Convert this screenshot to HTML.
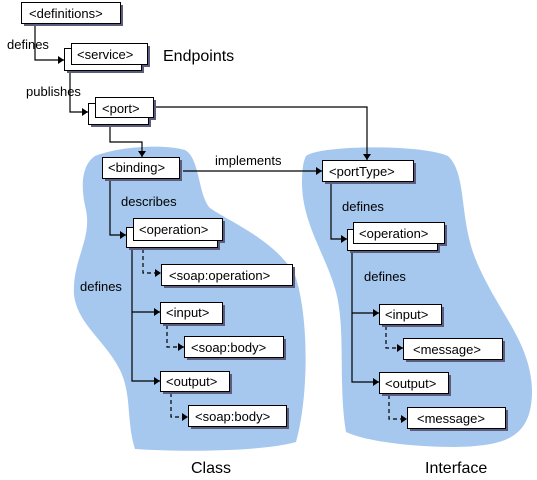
<!DOCTYPE html>
<html><head><meta charset="utf-8"><style>
html,body{margin:0;padding:0;background:#fff;}
svg{display:block;}
text{font-family:"Liberation Sans",Arial,sans-serif;font-size:13px;fill:#000;}
</style></head><body>
<svg width="537" height="480" viewBox="0 0 537 480" xmlns="http://www.w3.org/2000/svg">
<defs>
<marker id="a" markerWidth="8" markerHeight="8" refX="6" refY="4" orient="auto" markerUnits="userSpaceOnUse">
<path d="M0,0 L6,4 L0,8 Z" fill="#000"/></marker>
</defs>
<g fill="#a6c8ef">
<path d="M95,156 C120,146 165,144 185,150 C200,158 198,195 210,208 C230,222 275,240 295,275 C310,320 308,400 296,442 C260,452 180,452 135,449 C126,420 132,395 120,370 C105,340 78,325 74,295 C72,260 92,240 86,210 C80,185 82,165 95,156 Z"/>
<path d="M306,156 C320,145 420,144 448,156 C468,175 458,220 478,265 C500,315 533,345 532,395 C530,438 505,446 455,447 C410,447 365,441 346,432 C338,385 346,330 336,292 C326,255 303,225 302,185 C302,170 303,162 306,156 Z"/>
</g>
<g stroke="#000" stroke-width="1.2" fill="none">
<polyline points="35,23 35,60 64,60" marker-end="url(#a)"/>
<polyline points="70,72 70,112 88,112" marker-end="url(#a)"/>
<polyline points="110,124 110,142 142,142 142,157" marker-end="url(#a)"/>
<polyline points="156,107 367,107 367,160" marker-end="url(#a)"/>
<polyline points="183,171 322,171" marker-end="url(#a)"/>
<polyline points="110,181 110,235 126,235" marker-end="url(#a)"/>
<polyline points="132,249 132,381 160,381" marker-end="url(#a)"/>
<polyline points="132,312 160,312" marker-end="url(#a)"/>
<polyline points="331,182 331,239 347,239" marker-end="url(#a)"/>
<polyline points="352,252 352,382 379,382" marker-end="url(#a)"/>
<polyline points="352,313 379,313" marker-end="url(#a)"/>
<g stroke-dasharray="4,3">
<polyline points="143,249 143,273 161,273" marker-end="url(#a)"/>
<polyline points="167,325 167,347 184,347" marker-end="url(#a)"/>
<polyline points="171,393 171,417 188,417" marker-end="url(#a)"/>
<polyline points="386,326 386,348 403,348" marker-end="url(#a)"/>
<polyline points="389,395 389,419 407,419" marker-end="url(#a)"/>
</g>
</g>
<g fill="#5c5c7c">
<rect x="24" y="5" width="99" height="21"/>
<rect x="67" y="51" width="77" height="22"/><rect x="74" y="46" width="76" height="21"/>
<rect x="91" y="106" width="60" height="21"/><rect x="98" y="100" width="58" height="20"/>
<rect x="105" y="160" width="77" height="21"/>
<rect x="129" y="230" width="91" height="20"/><rect x="136" y="221" width="89" height="22"/>
<rect x="164" y="267" width="131" height="21"/>
<rect x="163" y="305" width="62" height="21"/>
<rect x="187" y="339" width="99" height="21"/>
<rect x="163" y="374" width="69" height="20"/>
<rect x="191" y="408" width="98" height="21"/>
<rect x="325" y="163" width="91" height="21"/>
<rect x="350" y="232" width="90" height="21"/><rect x="356" y="225" width="91" height="21"/>
<rect x="382" y="307" width="62" height="20"/>
<rect x="406" y="341" width="99" height="21"/>
<rect x="382" y="375" width="69" height="21"/>
<rect x="410" y="410" width="98" height="21"/>
</g>
<g fill="#fff" stroke="#000" stroke-width="1">
<rect x="21.5" y="2.5" width="99" height="21"/>
<rect x="64.5" y="48.5" width="77" height="22"/><rect x="71.5" y="43.5" width="76" height="21"/>
<rect x="88.5" y="103.5" width="60" height="21"/><rect x="95.5" y="97.5" width="58" height="20"/>
<rect x="102.5" y="157.5" width="77" height="21"/>
<rect x="126.5" y="227.5" width="91" height="20"/><rect x="133.5" y="218.5" width="89" height="22"/>
<rect x="161.5" y="264.5" width="131" height="21"/>
<rect x="160.5" y="302.5" width="62" height="21"/>
<rect x="184.5" y="336.5" width="99" height="21"/>
<rect x="160.5" y="371.5" width="69" height="20"/>
<rect x="188.5" y="405.5" width="98" height="21"/>
<rect x="322.5" y="160.5" width="91" height="21"/>
<rect x="347.5" y="229.5" width="90" height="21"/><rect x="353.5" y="222.5" width="91" height="21"/>
<rect x="379.5" y="304.5" width="62" height="20"/>
<rect x="403.5" y="338.5" width="99" height="21"/>
<rect x="379.5" y="372.5" width="69" height="21"/>
<rect x="407.5" y="407.5" width="98" height="21"/>
</g>
<g>
<text x="29" y="18">&lt;definitions&gt;</text>
<text x="77" y="59">&lt;service&gt;</text>
<text x="102" y="113">&lt;port&gt;</text>
<text x="108" y="172">&lt;binding&gt;</text>
<text x="139" y="234">&lt;operation&gt;</text>
<text x="169" y="280">&lt;soap:operation&gt;</text>
<text x="166" y="317">&lt;input&gt;</text>
<text x="191" y="352">&lt;soap:body&gt;</text>
<text x="166" y="386">&lt;output&gt;</text>
<text x="195" y="421">&lt;soap:body&gt;</text>
<text x="329" y="176">&lt;portType&gt;</text>
<text x="359" y="238">&lt;operation&gt;</text>
<text x="385" y="319">&lt;input&gt;</text>
<text x="413" y="354">&lt;message&gt;</text>
<text x="385" y="388">&lt;output&gt;</text>
<text x="417" y="423">&lt;message&gt;</text>
<text x="7" y="49">defines</text>
<text x="26" y="96">publishes</text>
<text x="215" y="165">implements</text>
<text x="121" y="206">describes</text>
<text x="80" y="291">defines</text>
<text x="342" y="211">defines</text>
<text x="364" y="281">defines</text>
<text x="163" y="61" style="font-size:16px">Endpoints</text>
<text x="191" y="473" style="font-size:16px">Class</text>
<text x="425" y="473" style="font-size:16px">Interface</text>
</g>
</svg>
</body></html>
